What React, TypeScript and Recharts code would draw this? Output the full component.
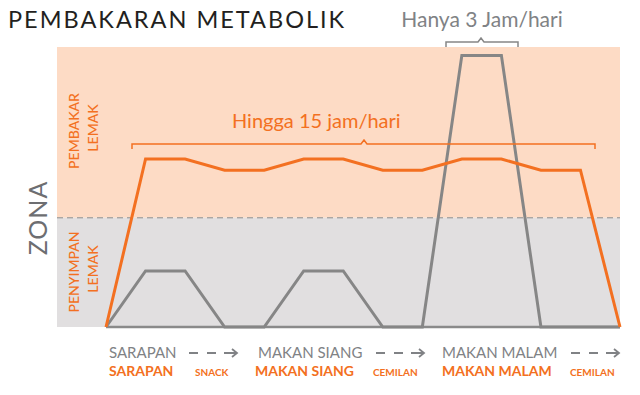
import React from "react";
import { LineChart, Line, XAxis, YAxis, ReferenceArea, ReferenceLine } from "recharts";

// time steps across the day (index positions)
const steps = [0, 1, 2, 3, 4, 5, 6, 7, 8, 9, 10, 11, 12, 13];
// metabolic burn curve (orange) – "Hingga 15 jam/hari"
const burnValues = [0, 60, 60, 56, 56, 60, 60, 56, 56, 60, 60, 56, 56, 0];
// storage curve (gray) – "Hanya 3 Jam/hari"
const storeValues = [0, 20, 20, 0, 0, 20, 20, 0, 0, 97, 97, 0, 0, 0];
const zoneThreshold = 39;

const mealsTop = ["SARAPAN", "MAKAN SIANG", "MAKAN MALAM"];
const mealsBottom = ["SARAPAN", "SNACK", "MAKAN SIANG", "CEMILAN", "MAKAN MALAM", "CEMILAN"];

const data = steps.map((t, i) => ({ t, burn: burnValues[i], store: storeValues[i] }));

const ORANGE = "#F37021";
const GRAY_LINE = "#868686";
const GRAY_TEXT = "#808285";
const FONT = "Lato, 'Open Sans', sans-serif";

function Arrow({ x, y }: { x: number; y: number }) {
  return (
    <g stroke={GRAY_TEXT} strokeWidth={2} fill="none">
      <line x1={x} y1={y} x2={x + 9} y2={y} />
      <line x1={x + 18} y1={y} x2={x + 27} y2={y} />
      <line x1={x + 35} y1={y} x2={x + 48} y2={y} />
      <polyline points={`${x + 43},${y - 4} ${x + 48},${y} ${x + 43},${y + 4}`} strokeWidth={1.8} />
    </g>
  );
}

function Rot({ x, y, size, fill, children, weight = 500, spacing = 0 }: any) {
  return (
    <text
      x={x}
      y={y}
      fontSize={size}
      fill={fill}
      fontWeight={weight}
      textAnchor="middle"
      dominantBaseline="central"
      letterSpacing={spacing}
      transform={`rotate(-90 ${x} ${y})`}
    >
      {children}
    </text>
  );
}

export default function App() {
  return (
    <div style={{ position: "absolute", left: 0, top: 0, width: 640, height: 395, background: "#fff", fontFamily: FONT }}>
      <LineChart width={640} height={395} data={data} margin={{ top: 47, right: 20, bottom: 68, left: 57 }}>
        <XAxis dataKey="t" type="number" domain={[-1.24, 13]} hide />
        <YAxis type="number" domain={[0, 100]} hide />
        <ReferenceArea y1={zoneThreshold} y2={100} fill="#FDDBC5" fillOpacity={1} stroke="none" ifOverflow="visible" />
        <ReferenceArea y1={0} y2={zoneThreshold} fill="#E1DFE0" fillOpacity={1} stroke="none" ifOverflow="visible" />
        <ReferenceLine y={zoneThreshold} stroke="#8c8c8c" strokeDasharray="6 4" strokeWidth={1} />
        <ReferenceLine
          segment={[{ x: 0, y: 0 }, { x: 13, y: 0 }]}
          stroke="#8a8a8a"
          strokeWidth={2.5}
          ifOverflow="visible"
        />
        <Line
          dataKey="store"
          stroke={GRAY_LINE}
          strokeWidth={3}
          dot={false}
          isAnimationActive={false}
          strokeLinejoin="miter"
        />
        <Line
          dataKey="burn"
          stroke={ORANGE}
          strokeWidth={3}
          dot={false}
          isAnimationActive={false}
          strokeLinejoin="miter"
        />
      </LineChart>
      <svg
        width={640}
        height={395}
        style={{ position: "absolute", left: 0, top: 0, pointerEvents: "none", fontFamily: FONT }}
      >
        <text x={8} y={28} fontSize={23.5} fill="#231f20" fontWeight={400} letterSpacing={2}>
          PEMBAKARAN METABOLIK
        </text>
        <text x={482} y={27} fontSize={21} fill={GRAY_TEXT} textAnchor="middle" fontWeight={400}>
          Hanya 3 Jam/hari
        </text>
        <path d="M446,47 L446,42 L478,42 L481,38 L484,42 L518,42 L518,47" stroke={GRAY_LINE} strokeWidth={1.5} fill="none" />
        <text x={232} y={128} fontSize={20} fill={ORANGE} fontWeight={400}>
          Hingga 15 jam/hari
        </text>
        <path d="M132,149 L132,144 L361,144 L364,140 L367,144 L595,144 L595,149" stroke={ORANGE} strokeWidth={1.5} fill="none" />

        <Rot x={37} y={218} size={25} fill="#6d6e71" weight={400} spacing={1}>ZONA</Rot>
        <Rot x={73} y={131} size={14} fill={ORANGE}>PEMBAKAR</Rot>
        <Rot x={92} y={128} size={14} fill={ORANGE}>LEMAK</Rot>
        <Rot x={73} y={272} size={14} fill={ORANGE}>PENYIMPAN</Rot>
        <Rot x={92} y={269} size={14} fill={ORANGE}>LEMAK</Rot>

        <g fontSize={15} fill={GRAY_TEXT} fontWeight={400}>
          <text x={109} y={358}>{mealsTop[0]}</text>
          <text x={258} y={358}>{mealsTop[1]}</text>
          <text x={442} y={358}>{mealsTop[2]}</text>
        </g>
        <Arrow x={189} y={353} />
        <Arrow x={376} y={353} />
        <Arrow x={571} y={353} />

        <g fill={ORANGE} fontWeight={700}>
          <text x={109} y={376} fontSize={14}>{mealsBottom[0]}</text>
          <text x={195} y={376} fontSize={10}>{mealsBottom[1]}</text>
          <text x={255} y={376} fontSize={14}>{mealsBottom[2]}</text>
          <text x={373} y={376} fontSize={10}>{mealsBottom[3]}</text>
          <text x={442} y={376} fontSize={14}>{mealsBottom[4]}</text>
          <text x={570} y={376} fontSize={10}>{mealsBottom[5]}</text>
        </g>
      </svg>
    </div>
  );
}
